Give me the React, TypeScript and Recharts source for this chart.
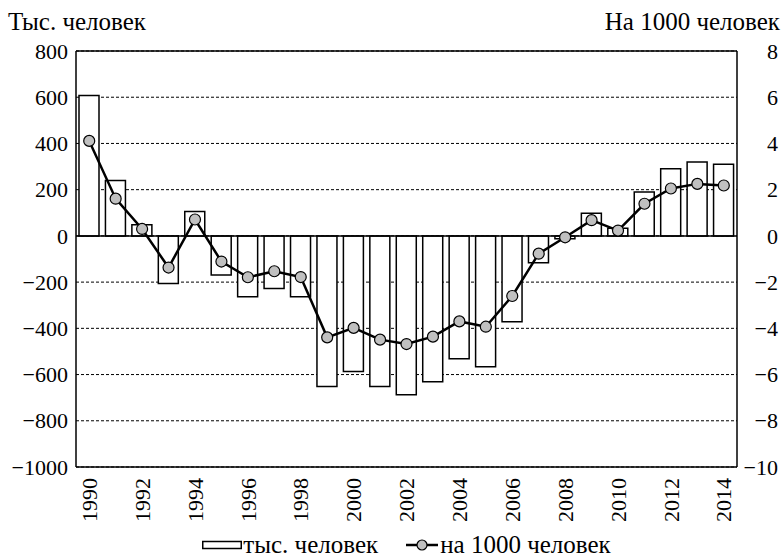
import React from 'react';
import {
  ComposedChart, Bar, Line, XAxis, YAxis, CartesianGrid, ReferenceLine, Legend,
} from 'recharts';

const years = ['1990','1991','1992','1993','1994','1995','1996','1997','1998','1999','2000','2001','2002','2003','2004','2005','2006','2007','2008','2009','2010','2011','2012','2013','2014'];
const thousands = [607, 240, 48, -206, 105, -169, -263, -228, -263, -652, -587, -652, -687, -631, -532, -566, -372, -116, -12, 98, 33, 190, 291, 320, 310];
const perThousand = [4.11, 1.61, 0.3, -1.37, 0.71, -1.11, -1.79, -1.53, -1.78, -4.39, -3.98, -4.49, -4.68, -4.36, -3.7, -3.93, -2.6, -0.77, -0.06, 0.68, 0.23, 1.39, 2.05, 2.25, 2.18];
const leftTicks = [-1000, -800, -600, -400, -200, 0, 200, 400, 600, 800];
const rightTicks = [-10, -8, -6, -4, -2, 0, 2, 4, 6, 8];
const leftTitle = 'Тыс. человек';
const rightTitle = 'На 1000 человек';
const barName = 'тыс. человек';
const lineName = 'на 1000 человек';

const data = years.map((y, i) => ({ year: y, k: thousands[i], r: perThousand[i] }));

const FONT = 'Liberation Serif, Times New Roman, serif';
const FS = 22;
const TFS = 25;
const fmt = (v: number) => String(v).replace('-', '\u2212');

const LeftTick = (p: any) => (
  <text x={p.x - 8} y={p.y} dy="0.35em" textAnchor="end" style={{ fontFamily: FONT }} fontSize={FS} fill="#000">
    {fmt(p.payload.value)}
  </text>
);
const RightTick = (p: any) => (
  <text x={p.x + 41} y={p.y} dy="0.35em" textAnchor="end" style={{ fontFamily: FONT }} fontSize={FS} fill="#000">
    {fmt(p.payload.value)}
  </text>
);
const XTick = (p: any) => (
  <g transform={`translate(${p.x},${p.y + 11})`}>
    <text transform="rotate(-90)" textAnchor="end" dy="0.35em" style={{ fontFamily: FONT }} fontSize={FS} fill="#000">
      {p.payload.value}
    </text>
  </g>
);

const LegendContent = () => (
  <div style={{ display: 'flex', justifyContent: 'center', alignItems: 'center', fontFamily: FONT, fontSize: TFS, color: '#000', lineHeight: '24px' }}>
    <svg width={40} height={10} style={{ marginRight: 1 }}>
      <rect x={0.75} y={1.5} width={38.5} height={7} fill="#fff" stroke="#000" strokeWidth={1.5} />
    </svg>
    <span>{barName}</span>
    <svg width={32} height={14} style={{ marginLeft: 28, marginRight: 2 }}>
      <line x1={0} y1={7} x2={32} y2={7} stroke="#000" strokeWidth={2.5} />
      <circle cx={16} cy={7} r={5} fill="#c0c0c0" stroke="#000" strokeWidth={1.2} />
    </svg>
    <span>{lineName}</span>
  </div>
);

export default function App() {
  return (
    <div style={{ position: 'absolute', left: 0, top: 0, width: 781, height: 558, background: '#fff' }}>
      <div style={{ position: 'absolute', left: 8, top: 8, fontFamily: FONT, fontSize: TFS, lineHeight: 'normal', color: '#000', whiteSpace: 'nowrap' }}>{leftTitle}</div>
      <div style={{ position: 'absolute', right: 1, top: 8, fontFamily: FONT, fontSize: TFS, lineHeight: 'normal', color: '#000', whiteSpace: 'nowrap' }}>{rightTitle}</div>
      <ComposedChart width={781} height={558} data={data} margin={{ top: 51, right: 0, bottom: 0, left: 0 }} barSize={20}>
        <CartesianGrid yAxisId="left" vertical={false} stroke="#000" strokeWidth={1} strokeDasharray="3 2" />
        <XAxis dataKey="year" interval={1} tickLine={false} tickSize={0} tickMargin={0} height={66} axisLine={{ stroke: '#000', strokeWidth: 1.5 }} tick={<XTick />} />
        <YAxis yAxisId="left" domain={[-1000, 800]} ticks={leftTicks} width={76} tickLine={false} tickSize={0} tickMargin={0} axisLine={{ stroke: '#000', strokeWidth: 1.5 }} tick={<LeftTick />} interval={0} />
        <YAxis yAxisId="right" orientation="right" domain={[-10, 8]} ticks={rightTicks} width={44} tickLine={false} tickSize={0} tickMargin={0} axisLine={{ stroke: '#000', strokeWidth: 1.5 }} tick={<RightTick />} interval={0} />
        <ReferenceLine yAxisId="left" y={800} stroke="#000" strokeWidth={1.5} />
        <Bar yAxisId="left" dataKey="k" name={barName} fill="#fff" stroke="#000" strokeWidth={1.5} isAnimationActive={false} />
        <ReferenceLine yAxisId="left" y={0} stroke="#000" strokeWidth={1.5} />
        <Line yAxisId="right" dataKey="r" name={lineName} stroke="#000" strokeWidth={2.5} dot={{ r: 5.5, fill: '#c0c0c0', stroke: '#000', strokeWidth: 1.2 }} isAnimationActive={false} />
        <Legend verticalAlign="bottom" height={25} content={<LegendContent />} wrapperStyle={{ left: 76, width: 661 }} />
      </ComposedChart>
    </div>
  );
}
